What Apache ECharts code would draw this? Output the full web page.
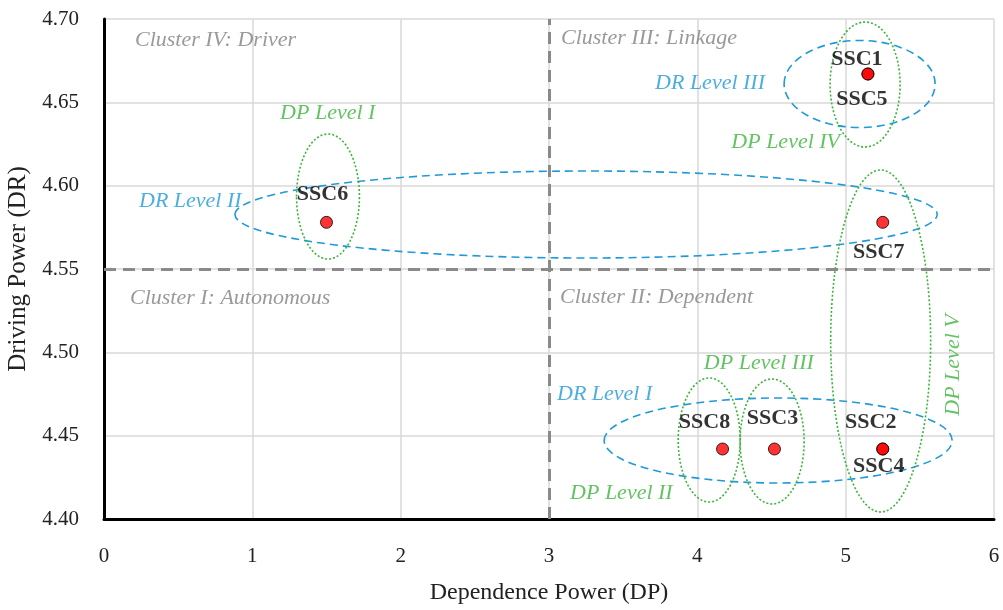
<!DOCTYPE html>
<html>
<head>
<meta charset="utf-8">
<script src="https://cdn.jsdelivr.net/npm/echarts@6/dist/echarts.min.js"></script>
<style>
  html, body { margin: 0; padding: 0; background: #fff; }
  #chart { width: 1003px; height: 610px; }
</style>
</head>
<body>
<div id="chart"></div>
<script>
// ---------- DATA ----------
const sscNames = ['SSC1', 'SSC2', 'SSC3', 'SSC4', 'SSC5', 'SSC6', 'SSC7', 'SSC8'];
const dependencePower = [5.15, 5.25, 4.52, 5.25, 5.15, 1.50, 5.25, 4.17];
const drivingPower   = [4.667, 4.442, 4.442, 4.442, 4.667, 4.578, 4.578, 4.442];

const xTicks = [0, 1, 2, 3, 4, 5, 6];
const yTicks = [4.40, 4.45, 4.50, 4.55, 4.60, 4.65, 4.70];

const dpThreshold = 3;     // vertical quadrant divider
const drThreshold = 4.55;  // horizontal quadrant divider

const clusterNames = ['Cluster IV: Driver', 'Cluster III: Linkage', 'Cluster I: Autonomous', 'Cluster II: Dependent'];
const drLevelNames = ['DR Level III', 'DR Level II', 'DR Level I'];
const dpLevelNames = ['DP Level I', 'DP Level II', 'DP Level III', 'DP Level IV', 'DP Level V'];

// ---------- LAYOUT (annotation anchors in data units; not data) ----------
const clusterAnchors = [[0.209, 4.6874], [3.081, 4.6886], [0.175, 4.5326], [3.074, 4.5332]];
const drLevelAnchors = [[3.715, 4.6616], [0.236, 4.5908], [3.054, 4.4750]];
const dpLevelAnchors = [[1.187, 4.6436], [3.142, 4.4156], [4.044, 4.4936], [4.229, 4.6262], [5.724, 4.4924]];
// ellipses: [cx, cy, rx, ry]
const drEllipses = [[5.094, 4.6610, 0.509, 0.0261], [3.250, 4.5827, 2.367, 0.0261], [4.545, 4.4471, 1.173, 0.0255]];
const dpEllipses = [[1.510, 4.5935, 0.212, 0.0375], [4.080, 4.4474, 0.209, 0.0372], [4.504, 4.4465, 0.216, 0.0375],
                    [5.131, 4.6607, 0.236, 0.0375], [5.236, 4.5068, 0.337, 0.1026]];
const sscLabelOffset = {
  SSC1: [-11, -15], SSC5: [-6, 25], SSC6: [-4, -28], SSC7: [-4, 30],
  SSC8: [-18, -27], SSC3: [-2, -31], SSC2: [-12, -27], SSC4: [-4, 17]
};

const SERIF = '"Liberation Serif", "DejaVu Serif", serif';
const BLUE = '#1f9ad8';
const GREEN = '#3cb43c';
const GREY = '#8a8a8a';

const chart = echarts.init(document.getElementById('chart'), null, { renderer: 'canvas' });

function ellipseSeries(list, color, dash, width) {
  return {
    type: 'custom',
    silent: true,
    z: 3,
    data: list,
    renderItem: function (params, api) {
      const c = api.coord([api.value(0), api.value(1)]);
      const s = api.size([api.value(2), api.value(3)]);
      return {
        type: 'ellipse',
        shape: { cx: c[0], cy: c[1], rx: s[0], ry: s[1] },
        style: { fill: null, stroke: color, lineWidth: width, lineDash: dash }
      };
    }
  };
}

function textSeries(names, anchors, color) {
  return {
    type: 'scatter',
    silent: true,
    z: 4,
    symbolSize: 0,
    data: names.map((n, i) => ({ name: n, value: anchors[i] })),
    label: {
      show: true,
      position: 'right',
      distance: 0,
      formatter: p => p.name,
      color: color,
      fontFamily: SERIF,
      fontStyle: 'italic',
      fontSize: 22
    }
  };
}

const dpLabelData = dpLevelNames.map((n, i) => {
  const item = { name: n, value: dpLevelAnchors[i] };
  if (i === 4) {
    item.label = { position: 'inside', rotate: 90, align: 'center', verticalAlign: 'middle' };
  }
  return item;
});

const option = {
  animation: false,
  backgroundColor: '#ffffff',
  grid: { left: 104, right: 9, top: 19, bottom: 91, containLabel: false, outerBoundsMode: 'none' },
  xAxis: {
    type: 'value',
    min: xTicks[0], max: xTicks[xTicks.length - 1], interval: 1,
    name: 'Dependence Power (DP)',
    nameLocation: 'middle',
    nameGap: 62,
    nameTextStyle: { fontFamily: SERIF, fontSize: 24, color: '#222' },
    axisLine: { show: true, onZero: false, lineStyle: { color: '#000', width: 3 } },
    axisTick: { show: false },
    axisLabel: { fontFamily: SERIF, fontSize: 21, color: '#222', margin: 27 },
    splitLine: { show: true, lineStyle: { color: '#d9d9d9', width: 1.5 } }
  },
  yAxis: {
    type: 'value',
    min: yTicks[0], max: yTicks[yTicks.length - 1], interval: 0.05,
    name: 'Driving Power (DR)',
    nameLocation: 'middle',
    nameGap: 73,
    nameTextStyle: { fontFamily: SERIF, fontSize: 25, color: '#222' },
    axisLine: { show: true, onZero: false, lineStyle: { color: '#000', width: 3 } },
    axisTick: { show: false },
    axisLabel: { fontFamily: SERIF, fontSize: 21, color: '#222', margin: 25, formatter: v => v.toFixed(2) },
    splitLine: { show: true, lineStyle: { color: '#d9d9d9', width: 1.5 } }
  },
  series: [
    {
      type: 'line',
      data: [],
      silent: true,
      z: 2,
      markLine: {
        silent: true,
        symbol: 'none',
        label: { show: false },
        lineStyle: { color: GREY, width: 3, type: [12, 7] },
        data: [{ xAxis: dpThreshold }, { yAxis: drThreshold }]
      }
    },
    ellipseSeries(drEllipses, BLUE, [8, 5], 1.6),
    ellipseSeries(dpEllipses, GREEN, [2, 2], 1.6),
    textSeries(clusterNames, clusterAnchors, '#7f7f7f'),
    textSeries(drLevelNames, drLevelAnchors, BLUE),
    {
      type: 'scatter',
      silent: true,
      z: 4,
      symbolSize: 0,
      data: dpLabelData,
      label: {
        show: true, position: 'right', distance: 0,
        formatter: p => p.name, color: GREEN,
        fontFamily: SERIF, fontStyle: 'italic', fontSize: 22
      }
    },
    {
      type: 'scatter',
      z: 6,
      symbol: 'circle',
      symbolSize: 12,
      itemStyle: { color: '#ff0000', borderColor: '#000', borderWidth: 1 },
      data: sscNames.map((n, i) => ({
        name: n,
        value: [dependencePower[i], drivingPower[i]],
        label: { offset: sscLabelOffset[n] }
      })),
      label: {
        show: true,
        position: 'inside',
        formatter: p => p.name,
        color: '#000',
        fontFamily: SERIF,
        fontWeight: 'bold',
        fontSize: 22
      }
    }
  ]
};

chart.setOption(option);
</script>
</body>
</html>
